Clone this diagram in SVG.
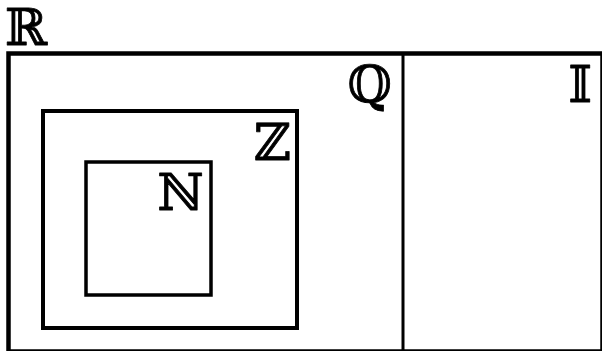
<svg xmlns="http://www.w3.org/2000/svg" width="602" height="351" viewBox="0 0 602 351">
<style>
.box{fill:none;stroke:#000}
.lbl{font-family:"DejaVu Serif","DejaVu Sans",serif;font-size:51px;fill:#000;stroke:#000;stroke-width:0.8px;stroke-linejoin:round}
</style>
<rect width="602" height="351" fill="#fff"/>
<g id="R">
<rect class="box" x="8.5" y="53.5" width="594" height="298" stroke-width="4.5"/>
<text class="lbl" x="5" y="45">ℝ</text>
</g>
<g id="Q">
<text class="lbl" x="392" y="102" text-anchor="end">ℚ</text>
</g>
<g id="I">
<text class="lbl" x="592" y="102" text-anchor="end">𝕀</text>
</g>
<g id="Z">
<rect class="box" x="43" y="111" width="254" height="217" stroke-width="4"/>
<text class="lbl" x="291" y="160" text-anchor="end">ℤ</text>
</g>
<g id="N">
<rect class="box" x="86" y="162" width="125" height="133" stroke-width="3.5"/>
<text class="lbl" x="204" y="210" text-anchor="end">ℕ</text>
</g>
<g id="connectors">
<line class="box" x1="403" y1="54" x2="403" y2="351" stroke-width="3"/>
</g>
</svg>
